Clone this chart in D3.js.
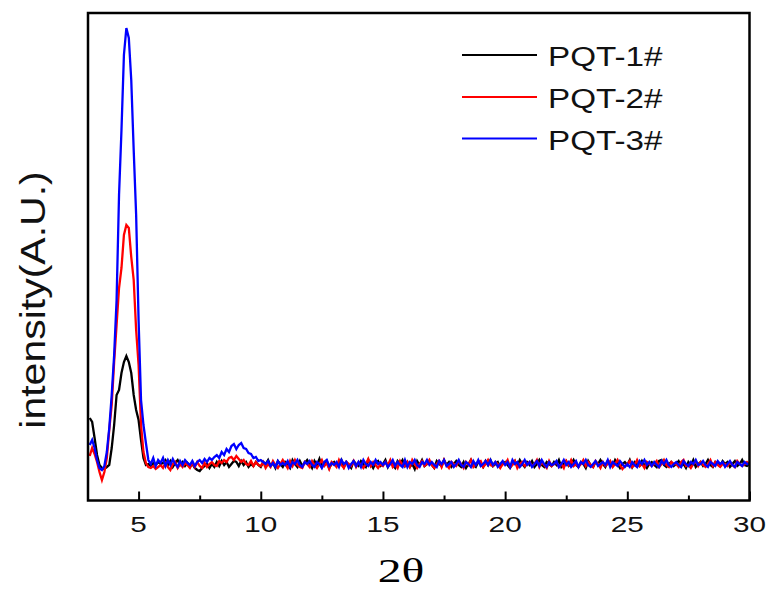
<!DOCTYPE html>
<html>
<head>
<meta charset="utf-8">
<script src="https://cdn.jsdelivr.net/npm/d3@7"></script>
<style>
  html, body { margin: 0; padding: 0; background: #fff; }
  svg { display: block; }
</style>
</head>
<body>
<svg id="chart" width="772" height="597"></svg>
<script>
// ---------------- DATA ----------------
const twoTheta = [
  3.0,3.1,3.2,3.3,3.4,3.5,3.6,3.7,3.8,3.9,
  4.0,4.1,4.2,4.3,4.4,4.5,4.6,4.7,4.8,4.9,
  5.0,5.1,5.2,5.3,5.4,5.5,5.6,5.7,5.8,5.9,
  6.0,6.1,6.2,6.3,6.4,6.5,6.6,6.7,6.8,6.9,
  7.0,7.1,7.2,7.3,7.4,7.5,7.6,7.7,7.8,7.9,
  8.0,8.1,8.2,8.3,8.4,8.5,8.6,8.7,8.8,8.9,
  9.0,9.1,9.2,9.3,9.4,9.5,9.6,9.7,9.8,9.9,
  10.0,10.1,10.2,10.3,10.4,10.5,10.6,10.7,10.8,10.9,
  11.0,11.1,11.2,11.3,11.4,11.5,11.6,11.7,11.8,11.9,
  12.0,12.1,12.2,12.3,12.4,12.5,12.6,12.7,12.8,12.9,
  13.0,13.1,13.2,13.3,13.4,13.5,13.6,13.7,13.8,13.9,
  14.0,14.1,14.2,14.3,14.4,14.5,14.6,14.7,14.8,14.9,
  15.0,15.1,15.2,15.3,15.4,15.5,15.6,15.7,15.8,15.9,
  16.0,16.1,16.2,16.3,16.4,16.5,16.6,16.7,16.8,16.9,
  17.0,17.1,17.2,17.3,17.4,17.5,17.6,17.7,17.8,17.9,
  18.0,18.1,18.2,18.3,18.4,18.5,18.6,18.7,18.8,18.9,
  19.0,19.1,19.2,19.3,19.4,19.5,19.6,19.7,19.8,19.9,
  20.0,20.1,20.2,20.3,20.4,20.5,20.6,20.7,20.8,20.9,
  21.0,21.1,21.2,21.3,21.4,21.5,21.6,21.7,21.8,21.9,
  22.0,22.1,22.2,22.3,22.4,22.5,22.6,22.7,22.8,22.9,
  23.0,23.1,23.2,23.3,23.4,23.5,23.6,23.7,23.8,23.9,
  24.0,24.1,24.2,24.3,24.4,24.5,24.6,24.7,24.8,24.9,
  25.0,25.1,25.2,25.3,25.4,25.5,25.6,25.7,25.8,25.9,
  26.0,26.1,26.2,26.3,26.4,26.5,26.6,26.7,26.8,26.9,
  27.0,27.1,27.2,27.3,27.4,27.5,27.6,27.7,27.8,27.9,
  28.0,28.1,28.2,28.3,28.4,28.5,28.6,28.7,28.8,28.9,
  29.0,29.1,29.2,29.3,29.4,29.5,29.6,29.7,29.8,29.9,
  30.0
];

const pqt1 = [
  82,78,62,45,35,32,31,33,35,52,
  75,105,110,127,138,144,138,127,105,90,
  80,60,42,35,36,34,37,35,38,36,
  37,40,35,39,33,37,40,35,38,34,
  37,33,36,32,30,29,32,34,36,32,
  36,33,38,34,39,35,38,33,36,39,
  38,34,39,35,38,33,36,34,38,35,
  33,38,36,40,34,37,32,39,36,33,
  38,35,32,40,36,33,39,34,37,40,
  36,32,39,35,41,33,37,39,32,36,
  38,34,36,40,33,38,35,32,39,36,
  34,39,36,33,40,36,32,37,39,34,
  36,40,33,38,35,32,39,36,40,34,
  38,33,36,31,39,35,40,34,36,38,
  35,32,39,36,34,40,35,38,33,36,
  39,35,33,38,32,36,40,35,33,38,
  36,33,39,35,40,34,36,38,33,36,
  38,35,32,36,39,34,40,36,33,38,
  35,39,33,36,40,35,33,38,36,34,
  38,35,40,33,36,39,34,36,40,35,
  33,38,36,32,39,35,33,38,36,40,
  36,33,39,35,34,40,36,32,36,38,
  35,40,33,38,36,34,39,35,32,36,
  38,35,33,39,40,35,33,36,38,34,
  36,39,34,36,32,38,35,40,33,36,
  38,34,36,40,35,33,38,36,34,39,
  36,38,33,36,39,34,36,40,35,34,
  36
];

const pqt2 = [
  44,52,46,38,28,20,28,42,70,95,
  138,175,212,232,265,275,272,243,220,170,
  135,75,48,37,33,32,34,31,33,35,
  32,37,33,30,36,38,32,36,33,37,
  35,32,37,33,38,34,32,37,33,36,
  38,35,34,39,37,40,38,42,43,40,
  44,41,38,40,36,35,39,34,38,35,
  34,38,32,36,33,39,35,32,36,40,
  36,32,39,34,40,35,33,32,38,36,
  33,39,35,32,36,40,34,37,31,38,
  36,33,40,35,32,38,36,34,39,33,
  38,35,32,36,41,34,38,35,32,36,
  34,38,35,40,33,36,32,39,35,34,
  38,33,40,36,32,36,39,34,36,40,
  35,32,36,39,33,40,35,32,38,36,
  34,39,36,32,38,35,40,33,36,38,
  39,33,36,40,35,34,38,36,32,36,
  36,40,33,35,39,32,36,38,34,36,
  38,34,36,40,33,38,35,32,39,34,
  36,38,33,36,32,39,35,40,34,36,
  33,36,40,34,38,35,33,39,36,32,
  38,34,36,39,33,36,40,35,31,34,
  36,39,33,35,40,34,36,32,38,36,
  34,36,39,33,36,40,35,33,38,36,
  36,33,38,40,34,35,32,36,39,34,
  38,35,33,36,40,34,38,35,33,36,
  36,34,38,35,33,39,36,34,36,38,
  36
];

const pqt3 = [
  55,60,52,40,32,30,34,48,72,105,
  145,200,305,370,445,472,462,420,350,285,
  180,100,75,57,40,36,42,34,40,37,
  42,34,40,35,41,36,33,39,35,40,
  37,35,39,34,38,40,37,41,38,42,
  40,43,45,42,48,45,51,48,54,56,
  51,55,57,52,51,47,46,42,43,39,
  40,38,36,39,34,37,33,39,35,37,
  35,39,33,38,36,40,35,33,38,36,
  39,35,33,38,36,32,38,40,34,37,
  35,38,33,40,36,38,32,36,39,34,
  38,33,40,36,34,38,35,40,36,38,
  35,38,33,36,40,34,38,35,33,40,
  33,38,36,40,35,33,38,36,40,35,
  38,35,33,39,36,40,34,36,38,33,
  36,40,35,33,38,36,33,39,35,40,
  34,36,39,35,40,35,38,33,36,39,
  35,38,33,40,36,38,33,36,40,35,
  38,33,36,39,34,40,36,33,38,35,
  36,39,33,36,40,35,38,33,36,39,
  33,38,36,40,35,33,36,39,34,36,
  38,35,40,33,38,36,34,39,36,33,
  36,33,38,35,33,39,36,40,35,38,
  34,38,35,33,39,36,40,35,33,36,
  38,35,33,39,36,34,38,36,40,35,
  36,39,35,33,38,36,34,39,36,38,
  33,36,39,35,33,38,36,34,38,36,
  36
];

const seriesNames = ["PQT-1#", "PQT-2#", "PQT-3#"];
const seriesColors = ["#000000", "#ff0000", "#0000ff"];
const xTickValues = [5, 10, 15, 20, 25, 30];
const xMinorTicks = [7.5, 12.5, 17.5, 22.5, 27.5];
const xTitle = "2\u03B8";
const yTitle = "intensity(A.U.)";

// ---------------- CHART ----------------
const svg = d3.select("#chart");
const L = 88, R = 749.5, T = 13, B = 500.5;

const x = d3.scaleLinear().domain([2.93, 30]).range([L, R]);
const y = d3.scaleLinear().domain([0, 487]).range([500, 13]);

const sans = "'Liberation Sans', Arial, Helvetica, sans-serif";
const serif = "'Liberation Serif', 'Times New Roman', Times, serif";

svg.append("defs").append("clipPath").attr("id", "plotClip")
  .append("rect").attr("x", L).attr("y", T).attr("width", R - L).attr("height", B - T);

const allSeries = [pqt1, pqt2, pqt3];
const line = d3.line()
  .x((d, i) => x(twoTheta[i]))
  .y(d => y(d));

const plot = svg.append("g").attr("clip-path", "url(#plotClip)");
allSeries.forEach((s, k) => {
  plot.append("path")
    .datum(s)
    .attr("fill", "none")
    .attr("stroke", seriesColors[k])
    .attr("stroke-width", 2.3)
    .attr("stroke-linejoin", "miter")
    .attr("d", line);
});

// x axis ticks (inward)
const xAxisMajor = d3.axisTop(x).tickValues(xTickValues).tickSize(9).tickFormat("");
const xAxisMinor = d3.axisTop(x).tickValues(xMinorTicks).tickSize(5).tickFormat("");
const gMaj = svg.append("g").attr("transform", `translate(0,${B})`).call(xAxisMajor);
const gMin = svg.append("g").attr("transform", `translate(0,${B})`).call(xAxisMinor);
[gMaj, gMin].forEach(g => {
  g.select(".domain").remove();
  g.selectAll("line").attr("stroke", "#000").attr("stroke-width", 2);
});

// tick labels
svg.append("g").selectAll("text")
  .data(xTickValues)
  .join("text")
  .attr("transform", d => `translate(${x(d)},532) scale(1.35,1)`)
  .attr("text-anchor", "middle")
  .attr("font-family", sans)
  .attr("font-size", 22)
  .attr("fill", "#111")
  .text(d => d);

// frame
svg.append("rect")
  .attr("x", L).attr("y", T)
  .attr("width", R - L).attr("height", B - T)
  .attr("fill", "none")
  .attr("stroke", "#000")
  .attr("stroke-width", 2.5);

// axis titles
svg.append("text")
  .attr("transform", "translate(401,582) scale(1.4,1)")
  .attr("text-anchor", "middle")
  .attr("font-family", serif)
  .attr("font-size", 34)
  .attr("fill", "#000")
  .text(xTitle);

svg.append("text")
  .attr("transform", "translate(45,300) scale(0.85,1) rotate(-90)")
  .attr("text-anchor", "middle")
  .attr("font-family", sans)
  .attr("font-size", 41)
  .attr("fill", "#111")
  .text(yTitle);

// legend
const legY = [55, 97, 138.5];
const leg = svg.append("g");
seriesNames.forEach((name, k) => {
  leg.append("line")
    .attr("x1", 462).attr("x2", 537)
    .attr("y1", legY[k]).attr("y2", legY[k])
    .attr("stroke", seriesColors[k])
    .attr("stroke-width", 2.2);
  leg.append("text")
    .attr("transform", `translate(548,${legY[k] + 11}) scale(1.23,1)`)
    .attr("font-family", sans)
    .attr("font-size", 27)
    .attr("fill", "#111")
    .text(name);
});
</script>
</body>
</html>
